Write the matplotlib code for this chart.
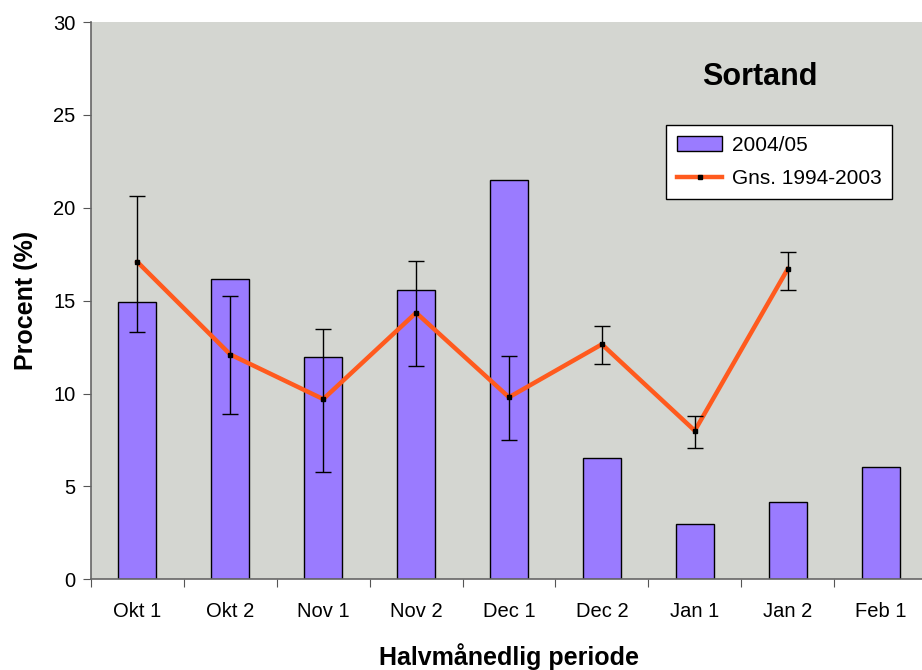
import numpy as np
import matplotlib
matplotlib.use("Agg")
import matplotlib.pyplot as plt

plt.rcParams['font.family'] = ['Liberation Sans', 'DejaVu Sans']

# data
periods = ["Okt 1", "Okt 2", "Nov 1", "Nov 2", "Dec 1", "Dec 2", "Jan 1", "Jan 2", "Feb 1"]
season_0405 = [14.95, 16.15, 11.95, 15.6, 21.5, 6.55, 3.0, 4.15, 6.05]
avg_9403 = [17.08, 12.1, 9.7, 14.35, 9.8, 12.65, 8.0, 16.7]
avg_upper = [20.66, 15.26, 13.45, 17.11, 12.03, 13.66, 8.81, 17.61]
avg_lower = [13.3, 8.9, 5.8, 11.49, 7.52, 11.59, 7.07, 15.58]

bar_color = "#9A7BFF"
line_color = "#FF5A1E"
bg_color = "#D4D6D1"

fig = plt.figure(figsize=(9.22, 6.70), dpi=100)
ax = fig.add_axes([91/922, 90.7/670, 836/922, 557.3/670])
ax.set_facecolor(bg_color)

x = np.arange(len(periods))
bars = ax.bar(x, season_0405, width=0.41, color=bar_color, edgecolor="black", linewidth=1.0,
              label="2004/05", zorder=2)

xm = x[:len(avg_9403)]
mean = np.array(avg_9403)
yerr = [mean - np.array(avg_lower), np.array(avg_upper) - mean]
line, = ax.plot(xm, mean, color=line_color, linewidth=3.2, marker="s", markersize=3.5,
                markerfacecolor="black", markeredgecolor="black", label="Gns. 1994-2003", zorder=3)
ax.errorbar(xm, mean, yerr=yerr, fmt="none", ecolor="black", elinewidth=1.0,
            capsize=5.5, capthick=1.0, zorder=4)

ax.set_xlim(-0.5, len(periods) - 0.5)
ax.set_ylim(0, 30)
ax.set_yticks(range(0, 31, 5))
ax.set_xticks(np.arange(-0.5, len(periods), 1.0))
ax.set_xticklabels([])
ax.set_xticks(x, minor=True)
ax.set_xticklabels(periods, minor=True)
ax.tick_params(axis="x", which="minor", length=0, pad=16, labelsize=14.5)
ax.tick_params(axis="x", which="major", length=6, direction="out", color="#555555")
ax.tick_params(axis="y", length=6, direction="out", labelsize=14.5, color="#555555", pad=5)

for side in ["top", "right"]:
    ax.spines[side].set_visible(False)
for side in ["left", "bottom"]:
    ax.spines[side].set_color("#666666")
    ax.spines[side].set_linewidth(1.2)

ax.set_ylabel("Procent (%)", fontsize=18, fontweight="bold", labelpad=11)
ax.set_xlabel("Halvmånedlig periode", fontsize=18, fontweight="bold", labelpad=16)

ax.text(0.80, 0.902, "Sortand", transform=ax.transAxes, ha="center", va="center",
        fontsize=22, fontweight="bold")

leg = ax.legend([bars, line], ["2004/05", "Gns. 1994-2003"],
                loc="upper left", bbox_to_anchor=(0.688, 0.815), borderaxespad=0,
                fancybox=False, edgecolor="black", framealpha=1, fontsize=15,
                handlelength=2.2, handletextpad=0.45, borderpad=0.5, labelspacing=0.7)
leg.get_frame().set_linewidth(1.0)

fig.savefig("out.png", dpi=100)
